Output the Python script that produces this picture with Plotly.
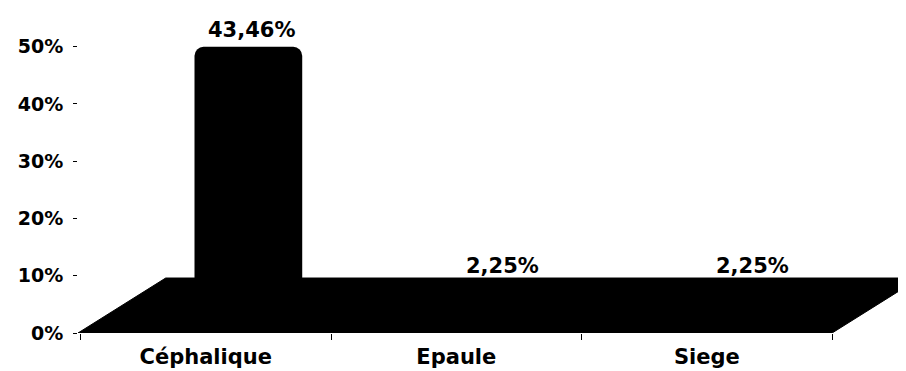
#3D-looking bar chart of presentation types, drawn flat in plotly with a black floor

import plotly.graph_objs as go

# Data
categories = ['Céphalique', 'Epaule', 'Siege']
values = [43.46, 2.25, 2.25]
labels = ['43,46%', '2,25%', '2,25%']
y_ticks = [0, 10, 20, 30, 40, 50]
y_tick_text = [f'{v}%' for v in y_ticks]

# Style constants for the fake depth
depth_y = 6.5        # how high the bars start (they sit at the back of the floor)
floor_back_y = 9.6   # back edge of the floor, in y units
floor_dx = 0.35      # horizontal shift of the floor's back edge, in category units
x_min, x_max = -0.51, 2.795

font_main = 'DejaVu Sans'

fig = go.Figure()

fig.add_trace(go.Bar(
    x=categories,
    y=values,
    base=depth_y,
    width=0.43,
    offset=-0.045,
    marker=dict(color='black', line=dict(width=0), cornerradius=9),
    hoverinfo='skip',
    showlegend=False
))

# Floor of the 3D chart (parallelogram under the bars)
fig.add_shape(
    type='path',
    path=(f'M {x_min},0 L 2.5,0 L {2.5 + floor_dx},{floor_back_y} '
          f'L {x_min + floor_dx},{floor_back_y} Z'),
    xref='x', yref='y',
    fillcolor='black',
    line=dict(color='black', width=1),
    layer='below'
)

# Value labels above each bar
for cat, val, txt in zip(categories, values, labels):
    fig.add_annotation(
        x=cat, y=val + depth_y,
        text=txt,
        showarrow=False,
        xshift=46, yshift=17,
        yanchor='middle',
        font=dict(family=font_main, size=21, color='black', weight='bold')
    )

# page body adds an 8px margin, so the figure is a bit smaller than the window
fig.update_layout(
    width=898, height=363,
    margin=dict(l=70, r=0, t=10, b=38),
    paper_bgcolor='white',
    plot_bgcolor='white',
    xaxis=dict(
        type='category',
        range=[x_min, x_max],
        showgrid=False,
        zeroline=False,
        showline=False,
        ticks='outside',
        tickson='boundaries',
        ticklen=6,
        tickcolor='black',
        ticklabelstandoff=9,
        tickfont=dict(family=font_main, size=21, color='black', weight='bold')
    ),
    yaxis=dict(
        range=[0, 55],
        tickvals=y_ticks,
        ticktext=y_tick_text,
        showgrid=False,
        zeroline=False,
        showline=False,
        ticks='outside',
        ticklen=4,
        tickcolor='black',
        ticklabelstandoff=6,
        tickfont=dict(family=font_main, size=19, color='black', weight='bold')
    )
)

fig.write_html("out.html")
